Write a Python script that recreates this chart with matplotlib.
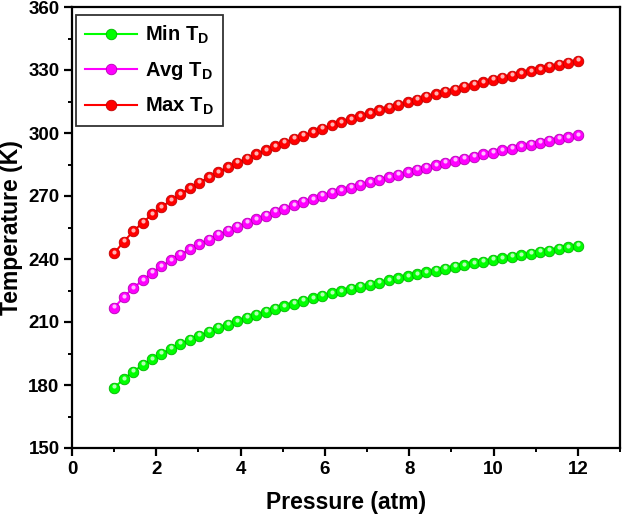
import numpy as np
import matplotlib
matplotlib.use("Agg")
import matplotlib.pyplot as plt
import matplotlib.transforms as mtransforms
from matplotlib.ticker import MultipleLocator

plt.rcParams['font.family'] = ['Liberation Sans', 'DejaVu Sans']
plt.rcParams['font.weight'] = 'bold'
plt.rcParams['mathtext.fontset'] = 'custom'
plt.rcParams['mathtext.rm'] = 'Liberation Sans:bold'
plt.rcParams['mathtext.it'] = 'Liberation Sans:bold'
plt.rcParams['mathtext.bf'] = 'Liberation Sans:bold'

pressure = np.linspace(1, 12, 50)

min_td = [178.7, 182.8, 186.3, 189.5, 192.3, 194.9, 197.3, 199.5, 201.6, 203.5,
          205.4, 207.1, 208.8, 210.4, 211.9, 213.4, 214.8, 216.2, 217.5, 218.8,
          220.0, 221.2, 222.4, 223.6, 224.7, 225.7, 226.8, 227.8, 228.8, 229.8,
          230.8, 231.7, 232.7, 233.6, 234.5, 235.3, 236.2, 237.0, 237.9, 238.7,
          239.5, 240.3, 241.0, 241.8, 242.6, 243.3, 244.0, 244.8, 245.5, 246.2]
avg_td = [216.8, 221.8, 226.1, 229.9, 233.3, 236.5, 239.4, 242.1, 244.6, 247.0,
          249.2, 251.4, 253.4, 255.4, 257.2, 259.0, 260.7, 262.4, 264.0, 265.6,
          267.1, 268.5, 270.0, 271.4, 272.7, 274.0, 275.3, 276.6, 277.8, 279.0,
          280.2, 281.3, 282.4, 283.5, 284.6, 285.7, 286.7, 287.8, 288.8, 289.8,
          290.7, 291.7, 292.6, 293.6, 294.5, 295.4, 296.3, 297.2, 298.0, 298.9]
max_td = [242.7, 248.2, 253.1, 257.3, 261.2, 264.7, 267.9, 270.9, 273.7, 276.4,
          278.9, 281.3, 283.6, 285.7, 287.8, 289.8, 291.7, 293.6, 295.4, 297.1,
          298.8, 300.4, 302.0, 303.6, 305.1, 306.6, 308.0, 309.4, 310.8, 312.1,
          313.4, 314.7, 315.9, 317.2, 318.4, 319.6, 320.7, 321.9, 323.0, 324.1,
          325.2, 326.3, 327.3, 328.4, 329.4, 330.4, 331.4, 332.4, 333.4, 334.3]

labels = ['Min T$_\\mathregular{D}$', 'Avg T$_\\mathregular{D}$', 'Max T$_\\mathregular{D}$']
colors = ['#00ff00', '#ff00ff', '#ff0000']
edges = ['#00b400', '#b400b4', '#c00000']
highlights = ['#c8ffc8', '#ffd0ff', '#ffc8c8']

fig = plt.figure(figsize=(6.22, 5.20), dpi=100)
ax = fig.add_axes([72/622, 1-448/520, (620-72)/622, (448-7)/520])

hl_trans = mtransforms.offset_copy(ax.transData, fig=fig, x=0.0, y=1.6, units='dots')
series = [min_td, avg_td, max_td]
handles = []
for ys, lab, c, e, h in zip(series, labels, colors, edges, highlights):
    ln, = ax.plot(pressure, ys, '-', color=c, lw=1.5, marker='o', ms=7.6,
                  mfc=c, mec=e, mew=0.6, label=lab, zorder=3)
    ax.plot(pressure, ys, 'o', ms=3.0, mfc=h, mec='none', alpha=0.9,
            transform=hl_trans, zorder=4)
    handles.append(ln)

ax.set_xlim(0, 13)
ax.set_ylim(150, 360)
ax.xaxis.set_major_locator(MultipleLocator(2))
ax.xaxis.set_minor_locator(MultipleLocator(1))
ax.yaxis.set_major_locator(MultipleLocator(30))
ax.yaxis.set_minor_locator(MultipleLocator(15))
ax.tick_params(which='major', direction='out', length=6, width=1.6, labelsize=13.5,
               top=False, right=False, pad=3)
ax.tick_params(which='minor', direction='out', length=3, width=1.4, top=False, right=False)
for lbl in ax.get_xticklabels() + ax.get_yticklabels():
    lbl.set_fontweight('bold')
for sp in ax.spines.values():
    sp.set_linewidth(1.6)

ax.set_xlabel('Pressure (atm)', fontsize=16.5, fontweight='bold', labelpad=10)
ax.set_ylabel('Temperature (K)', fontsize=16.5, fontweight='bold', labelpad=4)

leg = ax.legend(handles=handles, loc='upper left', bbox_to_anchor=(0.008, 0.982),
                fontsize=14.5, frameon=True, fancybox=False, edgecolor='black',
                handlelength=2.55, handletextpad=0.4, labelspacing=0.68,
                borderpad=0.45, borderaxespad=0.0)
leg.get_frame().set_linewidth(1.3)
for t in leg.get_texts():
    t.set_fontweight('bold')

fig.savefig('out.png', dpi=100)
